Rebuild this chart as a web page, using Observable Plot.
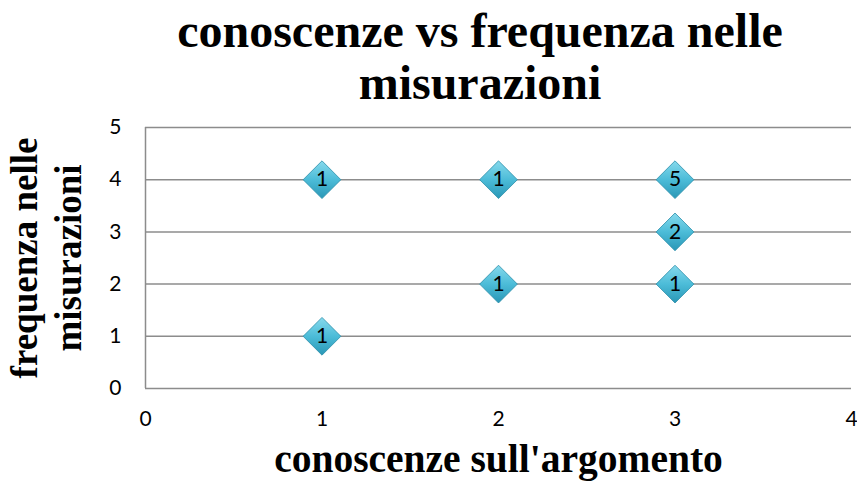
<!DOCTYPE html>
<html><head><meta charset="utf-8">
<script src="https://cdn.jsdelivr.net/npm/d3@7"></script>
<script src="https://cdn.jsdelivr.net/npm/@observablehq/plot@0.6"></script>
<style>
body{margin:0;background:#fff;}
#title{width:857px;height:110px;box-sizing:border-box;padding-left:103px;padding-top:5px;text-align:center;font-family:"Liberation Serif","Times New Roman",serif;font-weight:bold;font-size:48px;line-height:52px;color:#000;}
</style></head>
<body>
<div id="title">conoscenze vs frequenza nelle<br>misurazioni</div>
<div id="chart"></div>
<script>
const knowledge = [1, 2, 3, 3, 2, 3, 1];
const frequency = [4, 4, 4, 3, 2, 2, 1];
const counts    = [1, 1, 5, 2, 1, 1, 1];
const xTicks = [0, 1, 2, 3, 4];
const yTicks = [0, 1, 2, 3, 4, 5];
const gridY = [1, 2, 3, 4, 5];
const xTitle = "conoscenze sull'argomento";
const yTitle = "frequenza nelle\nmisurazioni";

const data = knowledge.map((k, i) => ({x: k, y: frequency[i], n: counts[i]}));

const chart = Plot.plot({
  width: 857,
  height: 380,
  marginLeft: 145,
  marginRight: 6,
  marginTop: 17,
  marginBottom: 102,
  style: {fontFamily: "Lato, 'Open Sans', sans-serif", background: "#fff", overflow: "visible"},
  x: {domain: [0, 4], ticks: xTicks},
  y: {domain: [0, 5], ticks: yTicks},
  marks: [
    Plot.ruleY(gridY, {stroke: "#8c8c8c", strokeWidth: 1.5}),
    Plot.ruleY([0], {stroke: "#8c8c8c", strokeWidth: 1.5}),
    Plot.ruleX([0], {stroke: "#8c8c8c", strokeWidth: 1.5}),
    Plot.axisX(xTicks, {tickSize: 0, tickPadding: 23, fontSize: 21, fill: "#000", label: null, tickFormat: "d"}),
    Plot.axisY(yTicks, {tickSize: 0, tickPadding: 24, fontSize: 21, fill: "#000", label: null, tickFormat: "d"}),
    Plot.dot(data, {x: "x", y: "y", symbol: "diamond2", r: 17, fill: "url(#dgrad)", stroke: "#2b8ea9", strokeWidth: 0.8, style: "filter: drop-shadow(1px 2px 1.5px rgba(0,0,0,0.45))"}),
    Plot.text(data, {x: "x", y: "y", text: "n", fontSize: 21, fill: "#000"}),
    Plot.text([xTitle], {frameAnchor: "bottom", textAnchor: "middle", dy: 83, fontSize: 39.5, fontWeight: "bold", fontFamily: "'Liberation Serif', 'Times New Roman', serif", fill: "#000"}),
    Plot.text([yTitle], {frameAnchor: "left", textAnchor: "middle", dx: -101, rotate: -90, lineHeight: 1.19, fontSize: 37, fontWeight: "bold", fontFamily: "'Liberation Serif', 'Times New Roman', serif", fill: "#000"})
  ]
});

const defs = d3.select(chart).insert("defs", ":first-child");
const g = defs.append("linearGradient").attr("id", "dgrad").attr("x1", 0).attr("y1", 0).attr("x2", 0).attr("y2", 1);
g.append("stop").attr("offset", "0%").attr("stop-color", "#86d9ec");
g.append("stop").attr("offset", "50%").attr("stop-color", "#4cbcd8");
g.append("stop").attr("offset", "100%").attr("stop-color", "#2a97b6");

document.getElementById("chart").appendChild(chart);
</script>
</body></html>
